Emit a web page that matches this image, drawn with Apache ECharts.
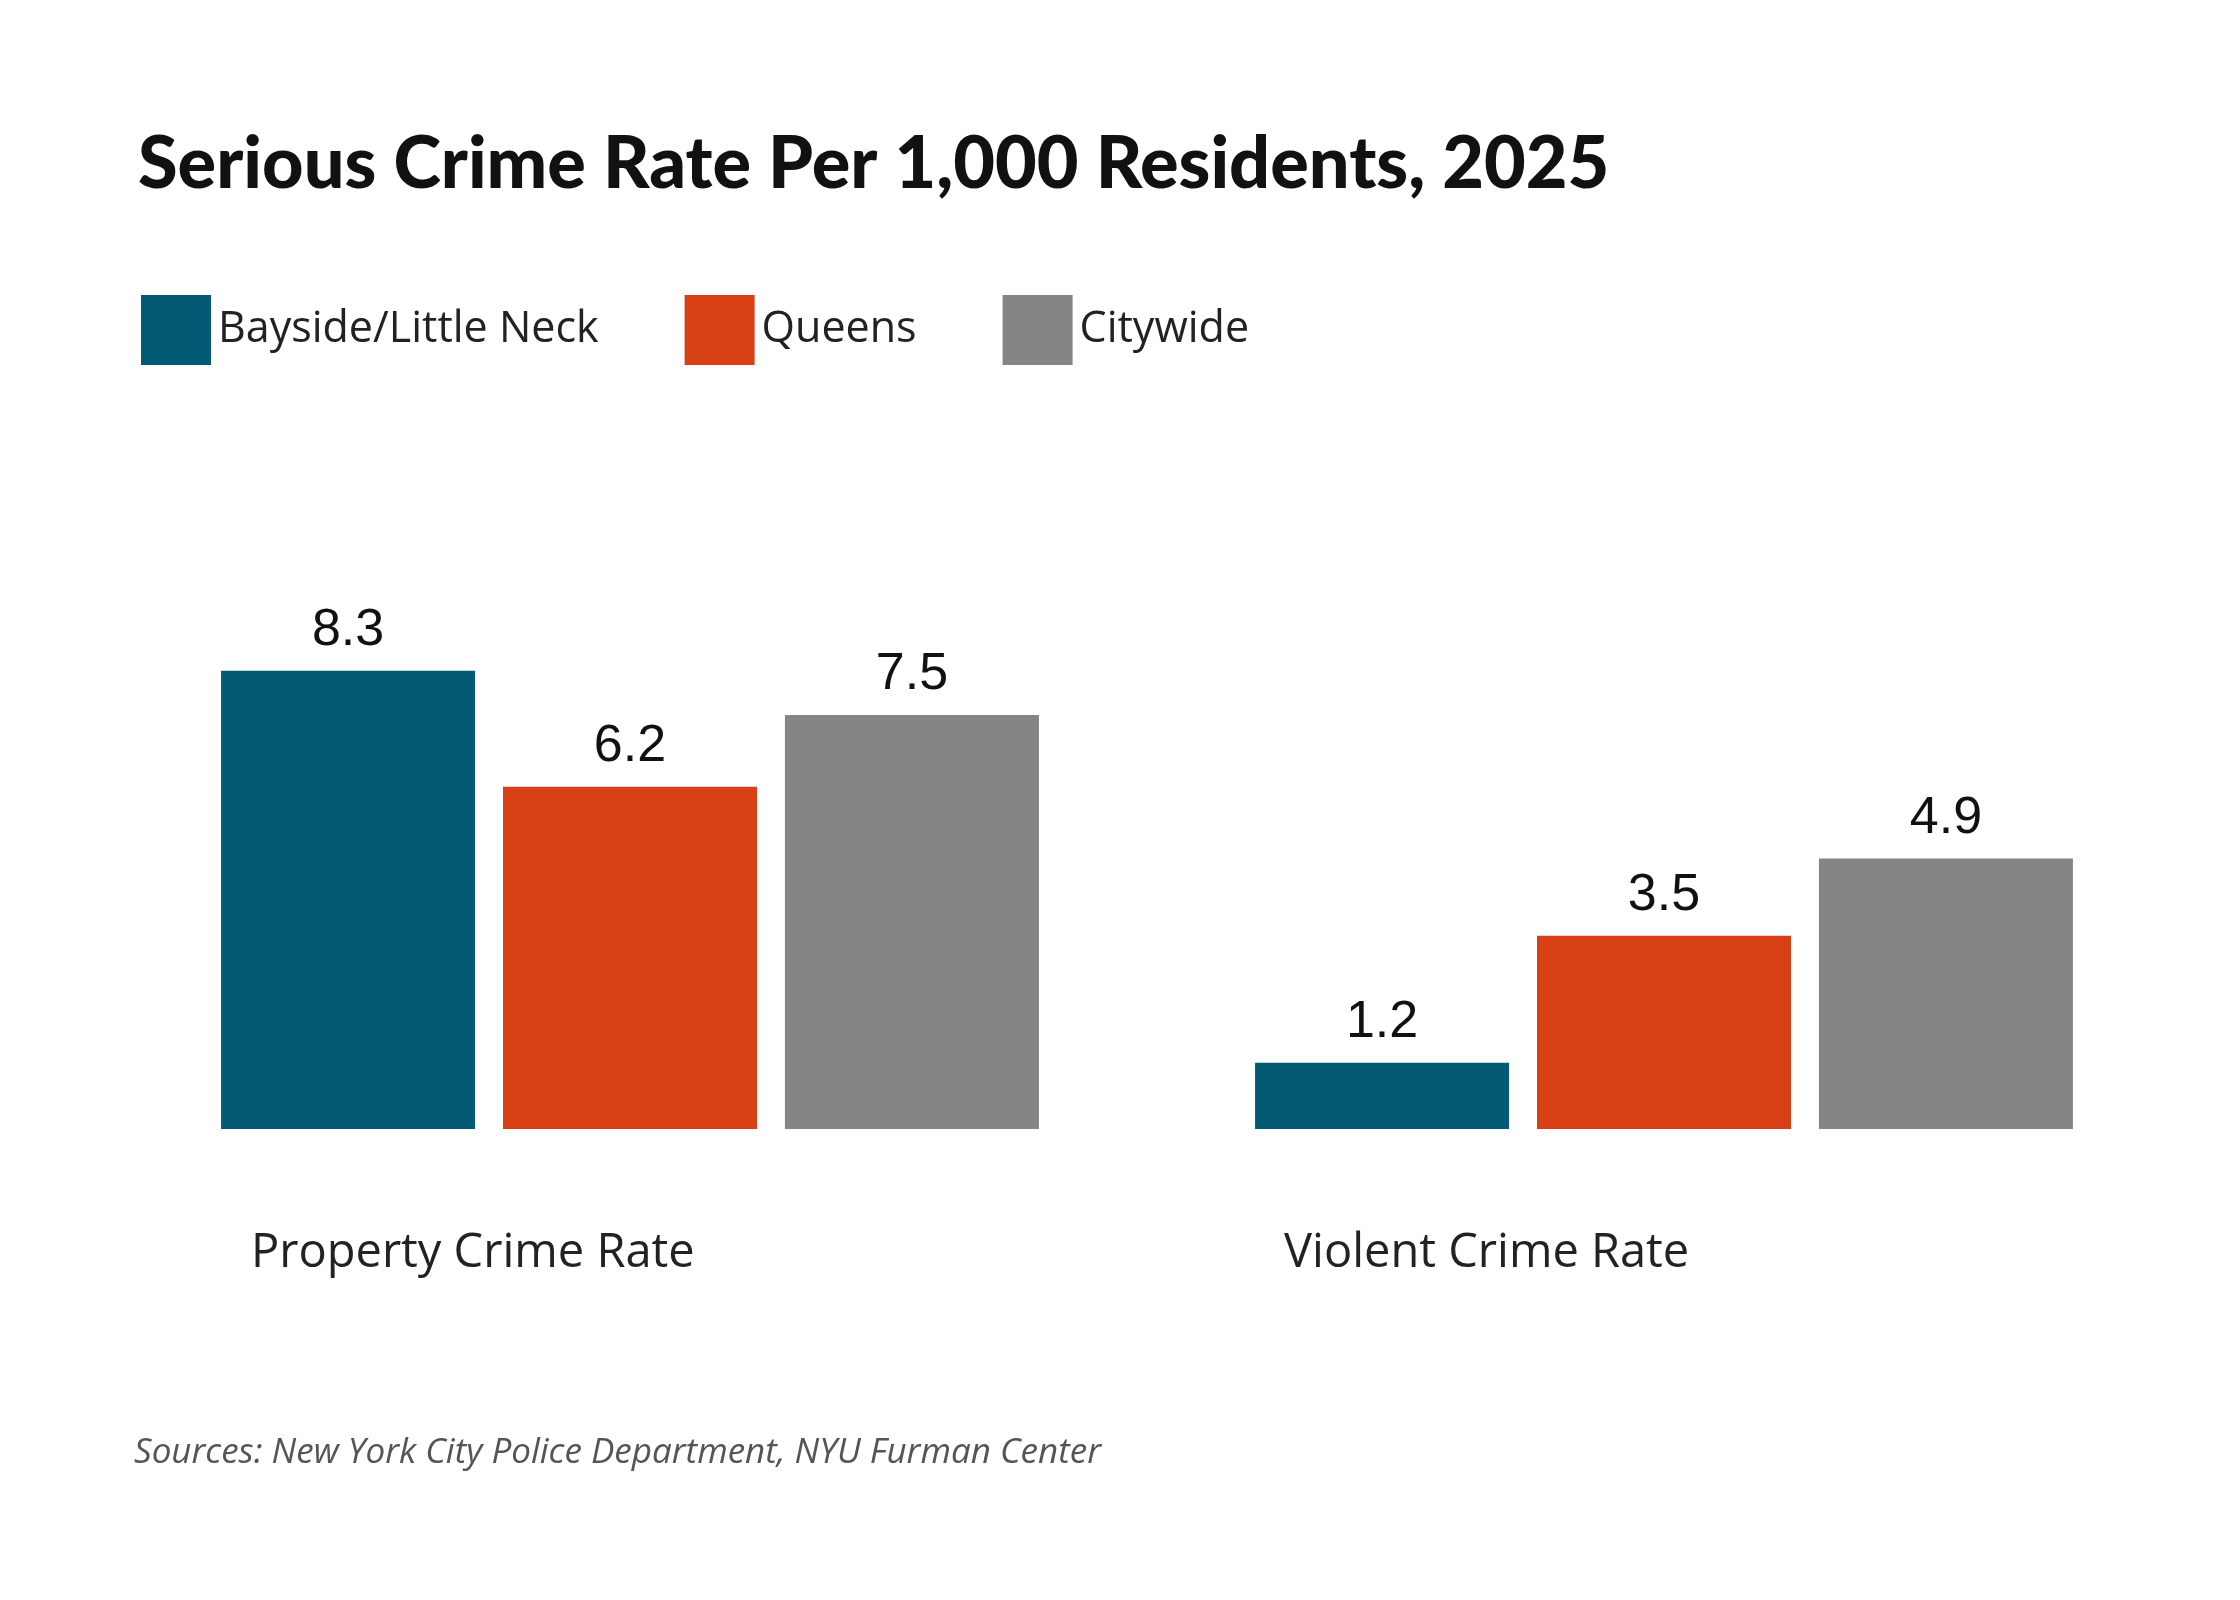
<!DOCTYPE html>
<html><head><meta charset="utf-8">
<script src="https://cdn.jsdelivr.net/npm/echarts@6/dist/echarts.min.js"></script>
<style>html,body{margin:0;padding:0;background:#fff}#c{width:2240px;height:1600px}</style>
</head><body><div id="c"></div>
<script>
const categories = ['Property Crime Rate', 'Violent Crime Rate'];
const seriesNames = ['Bayside/Little Neck', 'Queens', 'Citywide'];
const bayside = [8.3, 1.2];
const queens = [6.2, 3.5];
const citywide = [7.5, 4.9];
const colors = ['#035a75', '#d64014', '#858585'];
const values = [bayside, queens, citywide];

const chart = echarts.init(document.getElementById('c'));
chart.setOption({
  backgroundColor: '#fff',
  animation: false,
  title: {
    text: 'Serious Crime Rate Per 1,000 Residents, 2025',
    left: 133, top: 124,
    textStyle: {fontFamily: 'Lato', fontWeight: 900, fontSize: 72, color: '#111'}
  },
  legend: {
    left: 136, top: 290, itemWidth: 70, itemHeight: 70, itemGap: 86,
    icon: 'rect',
    textStyle: {fontFamily: 'Open Sans', fontSize: 43, color: '#222', padding: [0,0,0,2]},
    data: seriesNames
  },
  grid: {left: 113, right: 59, top: 577, bottom: 471},
  xAxis: {
    type: 'category', data: categories,
    axisLine: {show: false}, axisTick: {show: false}, axisLabel: {show: false}
  },
  yAxis: {type: 'value', min: 0, max: 10, show: false, splitLine: {show: false}},
  series: seriesNames.map((n, i) => ({
    name: n, type: 'bar', data: values[i],
    barWidth: 254, barGap: '11%',
    itemStyle: {color: colors[i]},
    label: {show: true, position: 'top', distance: 14, fontFamily: 'Liberation Sans', fontSize: 52, color: '#111',
      formatter: p => p.value.toFixed(1)}
  })),
  graphic: [
    {type: 'text', left: 251, top: 1230, style: {text: categories[0], font: '47px "Open Sans"', fill: '#222'}},
    {type: 'text', left: 1284, top: 1230, style: {text: categories[1], font: '47px "Open Sans"', fill: '#222'}},
    {type: 'text', left: 134, top: 1436, style: {text: 'Sources: New York City Police Department, NYU Furman Center', font: 'italic 35px "Open Sans"', fill: '#555'}}
  ]
});
</script></body></html>
